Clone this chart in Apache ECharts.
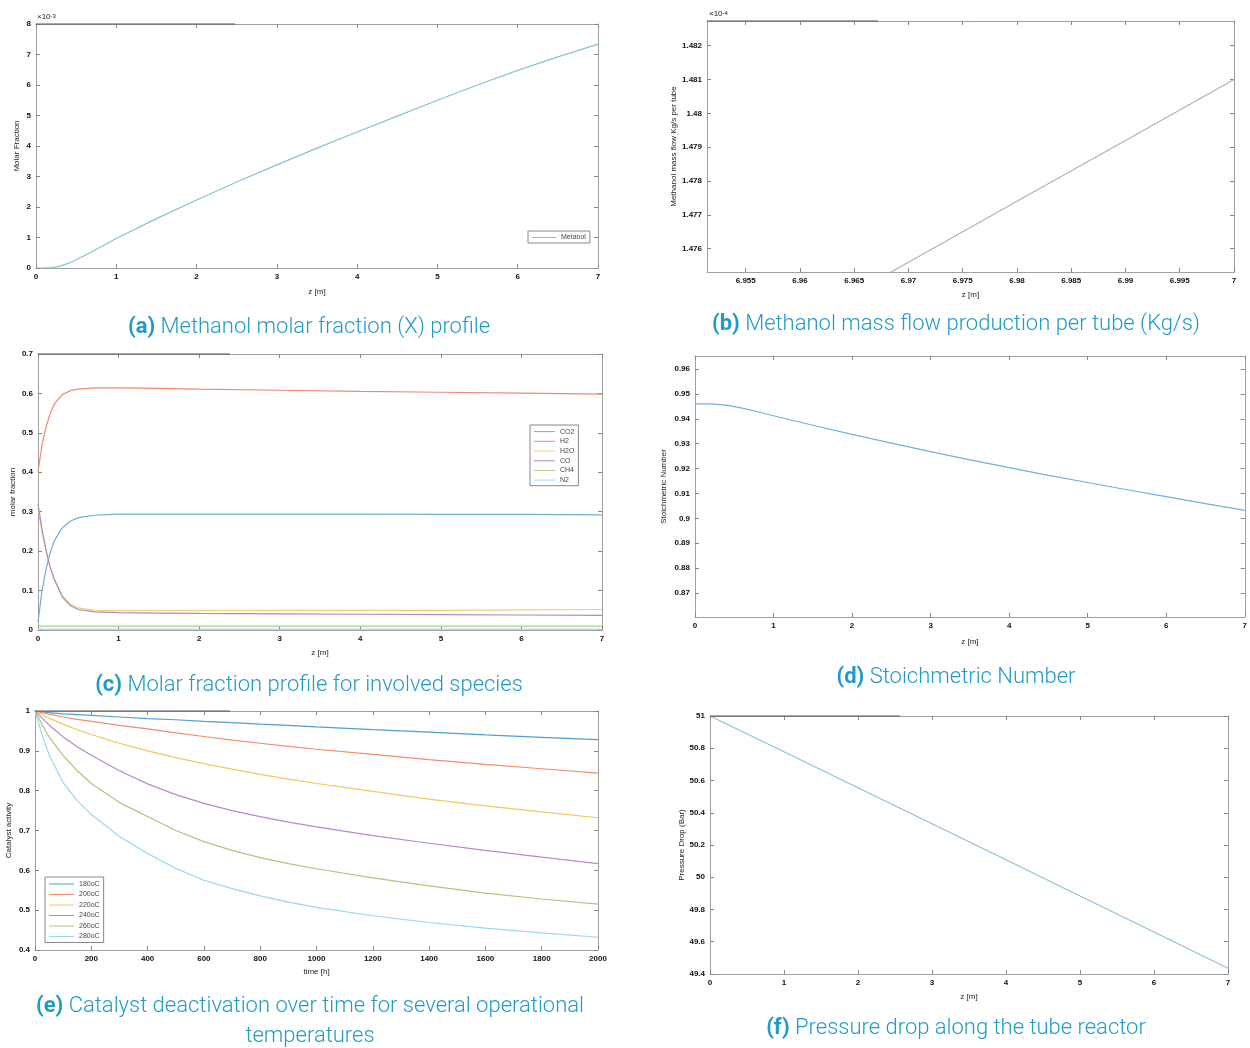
<!DOCTYPE html>
<html>
<head>
<meta charset="utf-8">
<script src="https://cdn.jsdelivr.net/npm/echarts@6/dist/echarts.min.js"></script>
<style>html,body{margin:0;padding:0;background:#fff;}#c{width:1250px;height:1048px;}</style>
</head>
<body>
<div id="c"></div>
<script>
// ---------- DATA ----------
// (a) Methanol molar fraction (x 1e-3)
const zA = [0,0.1,0.2,0.3,0.4,0.5,0.6,0.8,1,1.5,2,2.5,3,3.5,4,4.5,5,5.5,6,6.5,7];
const methanolA = [0,0,0.01,0.06,0.15,0.27,0.4,0.68,0.97,1.62,2.23,2.82,3.38,3.93,4.46,4.98,5.5,6.0,6.48,6.92,7.34];
// (b) Methanol mass flow per tube (x 1e-4 Kg/s)
const zB = [6.95,6.96,6.97,6.98,6.99,7.0];
const massFlowB = [1.4720,1.4738,1.4756,1.4774,1.4792,1.4810];
const ticksBx = [6.955,6.96,6.965,6.97,6.975,6.98,6.985,6.99,6.995,7];
const ticksBy = [1.476,1.477,1.478,1.479,1.48,1.481,1.482];
// (c) Molar fractions of species
const zC = [0,0.05,0.1,0.15,0.2,0.3,0.4,0.5,0.7,1,1.5,2,3,4,5,6,7];
const co2C = [0.02,0.10,0.155,0.195,0.225,0.259,0.276,0.285,0.291,0.294,0.294,0.294,0.294,0.294,0.293,0.293,0.292];
const h2C  = [0.40,0.47,0.515,0.548,0.572,0.597,0.607,0.611,0.614,0.614,0.613,0.611,0.608,0.605,0.603,0.601,0.598];
const h2oC = [0.31,0.25,0.20,0.16,0.13,0.087,0.066,0.056,0.05,0.049,0.049,0.049,0.05,0.05,0.05,0.051,0.052];
const coC  = [0.32,0.255,0.202,0.16,0.13,0.084,0.062,0.052,0.046,0.044,0.043,0.042,0.041,0.04,0.039,0.038,0.037];
const ch4C = [0.01,0.01,0.01,0.01,0.01,0.01,0.01,0.01,0.01,0.01,0.01,0.01,0.01,0.01,0.01,0.01,0.01];
const n2C  = [0.002,0.002,0.002,0.002,0.002,0.002,0.002,0.002,0.002,0.002,0.002,0.002,0.002,0.002,0.002,0.002,0.002];
const speciesC = ['CO2','H2','H2O','CO','CH4','N2'];
// (d) Stoichiometric number
const zD = [0,0.2,0.4,0.6,0.8,1,1.5,2,2.5,3,3.5,4,4.5,5,5.5,6,6.5,7];
const stoichD = [0.946,0.946,0.9455,0.9443,0.9428,0.9412,0.9374,0.9337,0.9302,0.9268,0.9235,0.9204,0.9173,0.9144,0.9115,0.9087,0.9059,0.9032];
const ticksDy = [0.87,0.88,0.89,0.9,0.91,0.92,0.93,0.94,0.95,0.96];
// (e) Catalyst activity vs time
const tE   = [0,25,50,100,150,200,300,400,500,600,700,800,900,1000,1200,1400,1600,1800,2000];
const a180 = [1,0.998,0.996,0.993,0.991,0.989,0.985,0.981,0.978,0.974,0.971,0.967,0.964,0.960,0.953,0.947,0.940,0.934,0.928];
const a200 = [1,0.996,0.992,0.985,0.979,0.974,0.964,0.955,0.945,0.936,0.927,0.919,0.911,0.904,0.891,0.878,0.866,0.855,0.844];
const a220 = [1,0.991,0.982,0.967,0.953,0.941,0.919,0.900,0.883,0.868,0.854,0.841,0.829,0.818,0.798,0.779,0.762,0.747,0.732];
const a240 = [1,0.982,0.965,0.935,0.910,0.889,0.850,0.817,0.790,0.768,0.750,0.735,0.721,0.709,0.687,0.668,0.650,0.633,0.617];
const a260 = [1,0.966,0.935,0.888,0.850,0.818,0.770,0.735,0.700,0.672,0.650,0.632,0.617,0.604,0.581,0.561,0.543,0.528,0.515];
const a280 = [1,0.940,0.890,0.820,0.775,0.740,0.685,0.642,0.605,0.575,0.554,0.536,0.520,0.507,0.486,0.469,0.455,0.443,0.432];
const tempsE = ['180oC','200oC','220oC','240oC','260oC','280oC'];
// (f) Pressure along reactor
const zF = [0,1,2,3,4,5,6,7];
const pressureF = [51,50.778,50.555,50.332,50.108,49.884,49.66,49.436];

// ---------- STYLE ----------
const capColor = '#1f9bc6';
const capFont = 'Roboto';
const tickFont = 'Liberation Sans';
const boxColor = '#a0a0a0';

const zip = (xs, ys) => xs.map((x, i) => [x, ys[i]]);
const fmt = v => String(+(+v).toFixed(4));

const grids = [], xAxes = [], yAxes = [], series = [], legends = [], graphics = [];

function axis(gi, pos, cfg, showLabel, name, nameGap) {
  const a = {
    type: 'value', gridIndex: gi, position: pos, min: cfg.min, max: cfg.max,
    axisLine: { show: true, onZero: false, lineStyle: { color: boxColor, width: 1 } },
    axisTick: { show: true, inside: true, length: 4, lineStyle: { color: '#888', width: 1 } },
    axisLabel: { show: showLabel, fontSize: 8, fontWeight: 'bold', color: '#111', fontFamily: tickFont, margin: 5, formatter: fmt },
    splitLine: { show: false },
    name: showLabel ? name : '', nameLocation: 'middle', nameGap: nameGap,
    nameTextStyle: { fontSize: 8, color: '#222', fontFamily: tickFont }
  };
  if (cfg.interval !== undefined) a.interval = cfg.interval;
  if (cfg.ticks) { a.axisTick.customValues = cfg.ticks; a.axisLabel.customValues = cfg.ticks; }
  return a;
}

function panel(box, xc, yc, xName, yName, xGap, yGap) {
  const gi = grids.length;
  grids.push({ left: box[0], top: box[1], width: box[2], height: box[3], containLabel: false, show: false });
  xAxes.push(axis(gi, 'bottom', xc, true, xName, xGap));
  xAxes.push(axis(gi, 'top', xc, false, '', 0));
  yAxes.push(axis(gi, 'left', yc, true, yName, yGap));
  yAxes.push(axis(gi, 'right', yc, false, '', 0));
  return { x: gi * 2, y: gi * 2 };
}

function line(ax, name, data, color) {
  series.push({
    type: 'line', name: name, xAxisIndex: ax.x, yAxisIndex: ax.y, data: data,
    symbol: 'none', showSymbol: false, smooth: false,
    lineStyle: { color: color, width: 1.2 }, itemStyle: { color: color }, clip: true, animation: false
  });
}

function legend(names, left, top, rowH, w) {
  const icon = 'path://M0,0L0,0M0,' + (rowH / 2 - 0.5) + 'L' + w + ',' + (rowH / 2 - 0.5) + 'L' + w + ',' + (rowH / 2 + 0.5) + 'L0,' + (rowH / 2 + 0.5) + 'ZM' + w + ',' + rowH + 'L' + w + ',' + rowH;
  legends.push({ data: names, left: left, top: top, orient: 'vertical', icon: icon,
    itemWidth: w, itemHeight: rowH, itemGap: 0.5, padding: [2, 4, 1, 4],
    borderColor: '#888', borderWidth: 1, textStyle: { fontSize: 7, color: '#444', fontFamily: tickFont } });
}

// (a)
const pA = panel([36, 24, 562, 244], { min: 0, max: 7, interval: 1 }, { min: 0, max: 8, interval: 1 }, 'z [m]', 'Molar Fraction', 20, 15);
line(pA, 'Metanol', zip(zA, methanolA), '#86c3d2');
legend(['Metanol'], 528, 231, 9, 24);

// (b)
const pB = panel([707, 21, 527, 251], { min: 6.95143, max: 7, ticks: ticksBx }, { min: 1.47531, max: 1.48273, ticks: ticksBy }, 'z [m]', 'Methanol mass flow Kg/s per tube', 19, 27);
line(pB, 'mass flow', zip(zB, massFlowB), '#a9b5bb');

// (c)
const pC = panel([38, 354, 564, 276], { min: 0, max: 7, interval: 1 }, { min: 0, max: 0.7, interval: 0.1 }, 'z [m]', 'molar fraction', 19, 21);
const colC = ['#6aafd2', '#ee8a72', '#f3cf73', '#a88cc0', '#a9d07c', '#9fd8ef'];
[co2C, h2C, h2oC, coC, ch4C, n2C].forEach((arr, i) => line(pC, speciesC[i], zip(zC, arr), colC[i]));
legend(speciesC, 530, 425, 9.2, 21);

// (d)
const pD = panel([695, 356, 552, 261], { min: 0, max: 7, interval: 1 }, { min: 0.8604, max: 0.9652, ticks: ticksDy }, 'z [m]', 'Stoichmetric Number', 21, 27);
line(pD, 'SN', zip(zD, stoichD), '#6fb2d4');

// (e)
const pE = panel([35, 711, 563, 239], { min: 0, max: 2000, interval: 200 }, { min: 0.4, max: 1, interval: 0.1 }, 'time [h]', 'Catalyst activity', 18, 22);
const colE = ['#4f9fd4', '#f08d6c', '#f5c65a', '#b689cc', '#b8c27a', '#98d8ee'];
[a180, a200, a220, a240, a260, a280].forEach((arr, i) => line(pE, tempsE[i], zip(tE, arr), colE[i]));
legend(tempsE, 45, 877, 10, 25);

// (f)
const pF = panel([710, 716, 518, 258], { min: 0, max: 7, interval: 1 }, { min: 49.4, max: 51, interval: 0.2 }, 'z [m]', 'Pressure Drop (Bar)', 19, 24);
line(pF, 'P', zip(zF, pressureF), '#8fc1da');

// exponent labels
graphics.push({ type: 'text', left: 37, top: 13, style: { text: '×10{s|-3}', fontSize: 8, fill: '#222', fontFamily: tickFont,
  rich: { s: { fontSize: 6, verticalAlign: 'top', fill: '#222' } } } });
graphics.push({ type: 'text', left: 709, top: 10, style: { text: '×10{s|-4}', fontSize: 8, fill: '#222', fontFamily: tickFont,
  rich: { s: { fontSize: 6, verticalAlign: 'top', fill: '#222' } } } });

// dark top-border artifacts
[[36, 235, 24], [707, 878, 21], [38, 230, 354], [35, 230, 711], [710, 900, 716]].forEach(s => {
  graphics.push({ type: 'line', shape: { x1: s[0], y1: s[2], x2: s[1], y2: s[2] }, style: { stroke: '#555', lineWidth: 1.2 }, z: 100 });
});

// captions
function caption(x, y, tag, text) {
  graphics.push({ type: 'text', x: x, y: y, style: {
    text: '{b|' + tag + '} ' + text, textAlign: 'center', textVerticalAlign: 'middle',
    fontSize: 22, fontWeight: 300, fill: capColor, fontFamily: capFont,
    rich: { b: { fontWeight: 'bold', fontSize: 22, fill: capColor, fontFamily: capFont } } } });
}
function captionPlain(x, y, text) {
  graphics.push({ type: 'text', x: x, y: y, style: { text: text, textAlign: 'center', textVerticalAlign: 'middle',
    fontSize: 22, fontWeight: 300, fill: capColor, fontFamily: capFont } });
}
caption(309, 327, '(a)', 'Methanol molar fraction (X) profile');
caption(956, 324, '(b)', 'Methanol mass flow production per tube (Kg/s)');
caption(309, 685, '(c)', 'Molar fraction profile for involved species');
caption(956, 677, '(d)', 'Stoichmetric Number');
caption(310, 1006, '(e)', 'Catalyst deactivation over time for several operational');
captionPlain(310, 1036, 'temperatures');
caption(956, 1028, '(f)', 'Pressure drop along the tube reactor');

const chart = echarts.init(document.getElementById('c'), null, { renderer: 'canvas' });
chart.setOption({
  animation: false,
  backgroundColor: '#fff',
  grid: grids, xAxis: xAxes, yAxis: yAxes, series: series, legend: legends, graphic: graphics
});
</script>
</body>
</html>
